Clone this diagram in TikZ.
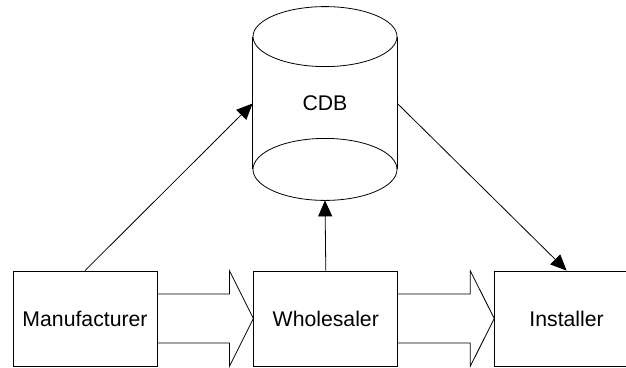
\documentclass[tikz,border=0pt]{standalone}
\usepackage{fontspec}
\setmainfont{Liberation Sans}
\usetikzlibrary{arrows.meta, positioning}

\begin{document}
\begin{tikzpicture}[x=1bp, y=-1bp, node distance=96bp, line width=0.8bp, box node/.style={rectangle, draw, minimum width=144bp, minimum height=95bp, inner sep=0pt, font=\fontsize{21.3}{26}\selectfont}, db node/.style={minimum width=144bp, minimum height=193bp, inner sep=0pt, font=\fontsize{21.3}{26}\selectfont}, link/.style={-{Triangle[length=16bp, width=14bp]}}]
\useasboundingbox (0,0) rectangle (626,367);
\clip (0,0) rectangle (626,367);
\node[box node](mfr) at (85,318.5){Manufacturer};
\node[box node, right=of mfr](whs){Wholesaler};
\node[box node, right=of whs](inst){Installer};
\node[db node](cdb) at (325,103.5){CDB};
% the database drum
\draw ([yshift=-30bp]cdb.north) ellipse [x radius=72bp, y radius=30bp];
\draw ([yshift=31bp]cdb.south) ellipse [x radius=72bp, y radius=31bp];
\draw ([yshift=-30bp]cdb.north west) -- ([yshift=31bp]cdb.south west);
\draw ([yshift=-30bp]cdb.north east) -- ([yshift=31bp]cdb.south east);
% goods flow between the parties
\foreach \from/\to in {mfr/whs, whs/inst}
  \draw ([yshift=24.5bp]\from.east) -- ([shift={(72bp,24.5bp)}]\from.east) -- ([xshift=72bp]\from.north east) -- (\to.west) -- ([xshift=72bp]\from.south east) -- ([shift={(72bp,-24.5bp)}]\from.east) -- ([yshift=-24.5bp]\from.east);
\draw[link] (mfr.north) -- (cdb.west);
\draw[link] (whs.north) -- (cdb.south);
\draw[link] (cdb.east) -- (inst.north);
\end{tikzpicture}
\end{document}
